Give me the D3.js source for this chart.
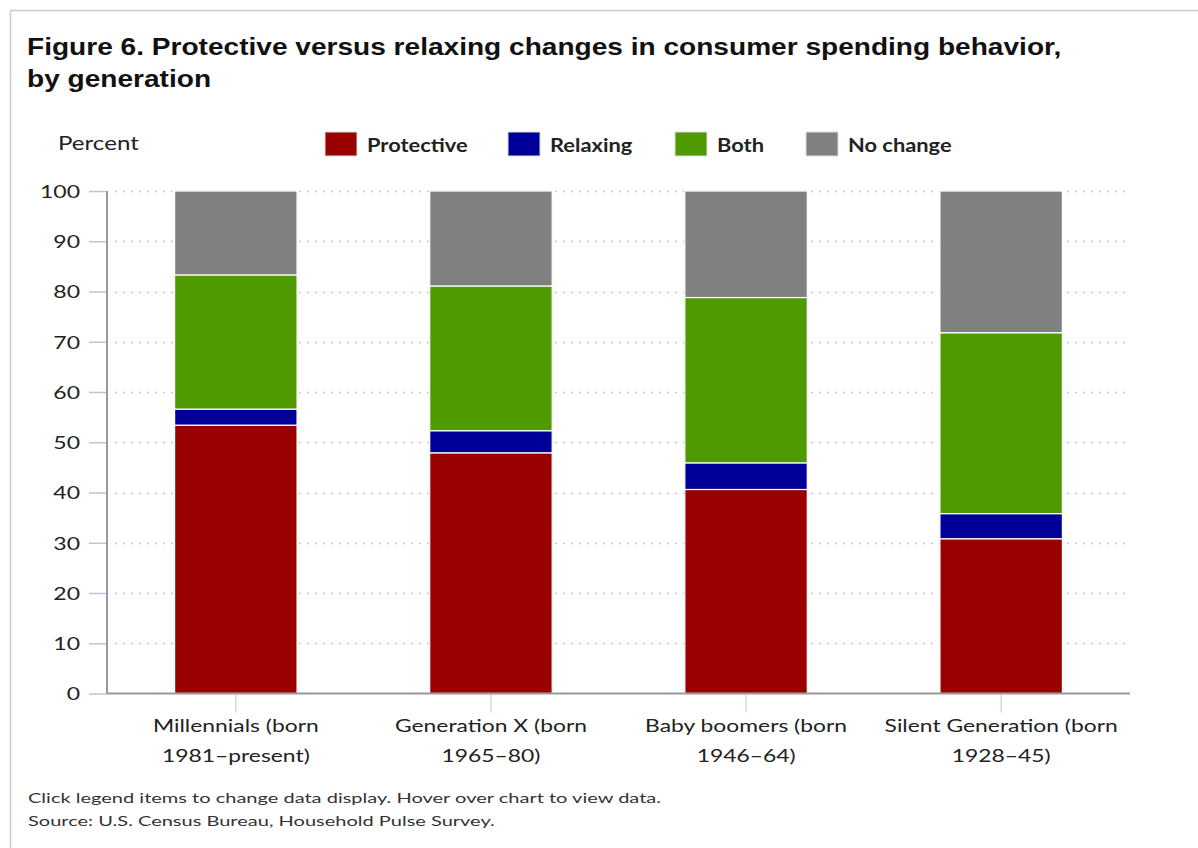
<!DOCTYPE html>
<html>
<head>
<meta charset="utf-8">
<script src="https://cdn.jsdelivr.net/npm/d3@7"></script>
<style>
  html, body { margin: 0; padding: 0; background: #fff; }
  svg { display: block; }
  .lbl { font-family: Lato, "Noto Sans", sans-serif; fill: #222; }
</style>
</head>
<body>
<svg id="chart" width="1198" height="848"></svg>
<script>
// Generations (two-line axis labels)
const categories = [
  ["Millennials (born", "1981\u2013present)"],
  ["Generation X (born", "1965\u201380)"],
  ["Baby boomers (born", "1946\u201364)"],
  ["Silent Generation (born", "1928\u201345)"]
];
const categoryKeys = ["Millennials", "Generation X", "Baby boomers", "Silent Generation"];

// Percent of each generation, stacked bottom to top
const protective = [53.4, 47.9, 40.6, 30.8];
const relaxing   = [3.2, 4.4, 5.3, 5.0];
const both       = [26.7, 28.8, 32.9, 36.0];
const noChange   = [16.7, 18.9, 21.2, 28.2];

const seriesNames = ["Protective", "Relaxing", "Both", "No change"];
const seriesColors = ["#990000", "#000099", "#4e9a00", "#808080"];
const yTicks = [0, 10, 20, 30, 40, 50, 60, 70, 80, 90, 100];

const rows = categoryKeys.map((k, i) => ({
  key: k,
  "Protective": protective[i],
  "Relaxing": relaxing[i],
  "Both": both[i],
  "No change": noChange[i]
}));

const svg = d3.select("#chart");

// Places a (horizontally widened) text block anchored at (x, y)
function wideText(parent, x, y, sx) {
  return parent.append("g")
    .attr("transform", `translate(${x},${y}) scale(${sx},1)`)
    .append("text").attr("x", 0).attr("y", 0);
}

// outer frame
svg.append("rect")
  .attr("x", 10.5).attr("y", 10.5)
  .attr("width", 1300).attr("height", 1000)
  .attr("fill", "none").attr("stroke", "#cccccc").attr("stroke-width", 1.5);

// title
const title = wideText(svg, 27, 55, 1.17)
  .style("font-family", "'Liberation Sans', Arial, sans-serif")
  .style("font-weight", "bold").style("font-size", "24px").style("fill", "#111");
title.append("tspan").attr("x", 0).attr("dy", 0)
  .text("Figure 6. Protective versus relaxing changes in consumer spending behavior,");
title.append("tspan").attr("x", 0).attr("dy", 32).text("by generation");

const plot = { left: 107, right: 1130, top: 191, bottom: 693.5 };

const x = d3.scaleBand()
  .domain(categoryKeys)
  .range([plot.left, plot.right])
  .paddingInner(0.52).paddingOuter(0.265);

const y = d3.scaleLinear().domain([0, 100]).range([plot.bottom, plot.top]);

// dotted gridlines
svg.append("g").selectAll("line")
  .data(yTicks.filter(t => t > 0))
  .join("line")
  .attr("x1", plot.left + 8).attr("x2", plot.right)
  .attr("y1", d => Math.round(y(d)) + 0.5).attr("y2", d => Math.round(y(d)) + 0.5)
  .attr("stroke", "#b8b8b8").attr("stroke-width", 1.5)
  .attr("stroke-dasharray", "1.5,6.5");

// stacked bars
const stacked = d3.stack().keys(seriesNames)(rows);
const color = d3.scaleOrdinal().domain(seriesNames).range(seriesColors);

svg.append("g").selectAll("g")
  .data(stacked)
  .join("g")
  .attr("fill", d => color(d.key))
  .selectAll("rect")
  .data(d => d)
  .join("rect")
  .attr("x", d => x(d.data.key))
  .attr("width", x.bandwidth())
  .attr("y", d => y(d[1]))
  .attr("height", d => y(d[0]) - y(d[1]))
  .attr("stroke", "#ffffff").attr("stroke-width", 1.2);

// y axis
const tickSx = 1.28;
const yAxis = d3.axisLeft(y).tickValues(yTicks).tickSize(18).tickFormat(d3.format("d"));
const gy = svg.append("g").attr("transform", `translate(${plot.left},0)`).call(yAxis);
gy.select(".domain").remove();
gy.selectAll(".tick line").attr("stroke", "#b7c6dc").attr("stroke-width", 1.5).attr("x2", -18).attr("x1", 0);
gy.selectAll(".tick text")
  .attr("class", "lbl").style("font-size", "18px")
  .attr("transform", `scale(${tickSx},1)`)
  .attr("x", -27 / tickSx).attr("dy", "0.35em");
svg.append("line")
  .attr("x1", plot.left).attr("x2", plot.left)
  .attr("y1", plot.top).attr("y2", plot.bottom)
  .attr("stroke", "#999").attr("stroke-width", 2);

// x axis
const xAxis = d3.axisBottom(x).tickSize(19).tickFormat(() => "");
const gx = svg.append("g").attr("transform", `translate(0,${plot.bottom})`).call(xAxis);
gx.select(".domain").remove();
gx.selectAll(".tick line").attr("stroke", "#b7c6dc").attr("stroke-width", 1);
svg.append("line")
  .attr("x1", plot.left).attr("x2", plot.right)
  .attr("y1", plot.bottom).attr("y2", plot.bottom)
  .attr("stroke", "#999").attr("stroke-width", 2);

categoryKeys.forEach((k, i) => {
  const cx = x(k) + x.bandwidth() / 2;
  const t = wideText(svg, cx, 732, 1.27)
    .attr("class", "lbl").attr("text-anchor", "middle").style("font-size", "18px");
  t.append("tspan").attr("x", 0).attr("dy", 0).text(categories[i][0]);
  t.append("tspan").attr("x", 0).attr("dy", 30).text(categories[i][1]);
});

// y axis caption
wideText(svg, 58, 150, 1.27).attr("class", "lbl").style("font-size", "19px").text("Percent");

// legend
const legendX = [325, 508, 675, 806];
seriesNames.forEach((name, i) => {
  svg.append("rect")
    .attr("x", legendX[i]).attr("y", 132)
    .attr("width", 32).attr("height", 24)
    .attr("fill", color(name)).attr("stroke", "#ddd").attr("stroke-width", 1);
  wideText(svg, legendX[i] + 42, 152, 1.15)
    .attr("class", "lbl").style("font-size", "19px").style("font-weight", "bold")
    .text(name);
});

// notes
const notes = wideText(svg, 28, 803, 1.43).attr("class", "lbl")
  .style("font-size", "14px").style("fill", "#333");
notes.append("tspan").attr("x", 0).attr("dy", 0)
  .text("Click legend items to change data display. Hover over chart to view data.");
notes.append("tspan").attr("x", 0).attr("dy", 23)
  .text("Source: U.S. Census Bureau, Household Pulse Survey.");
</script>
</body>
</html>
